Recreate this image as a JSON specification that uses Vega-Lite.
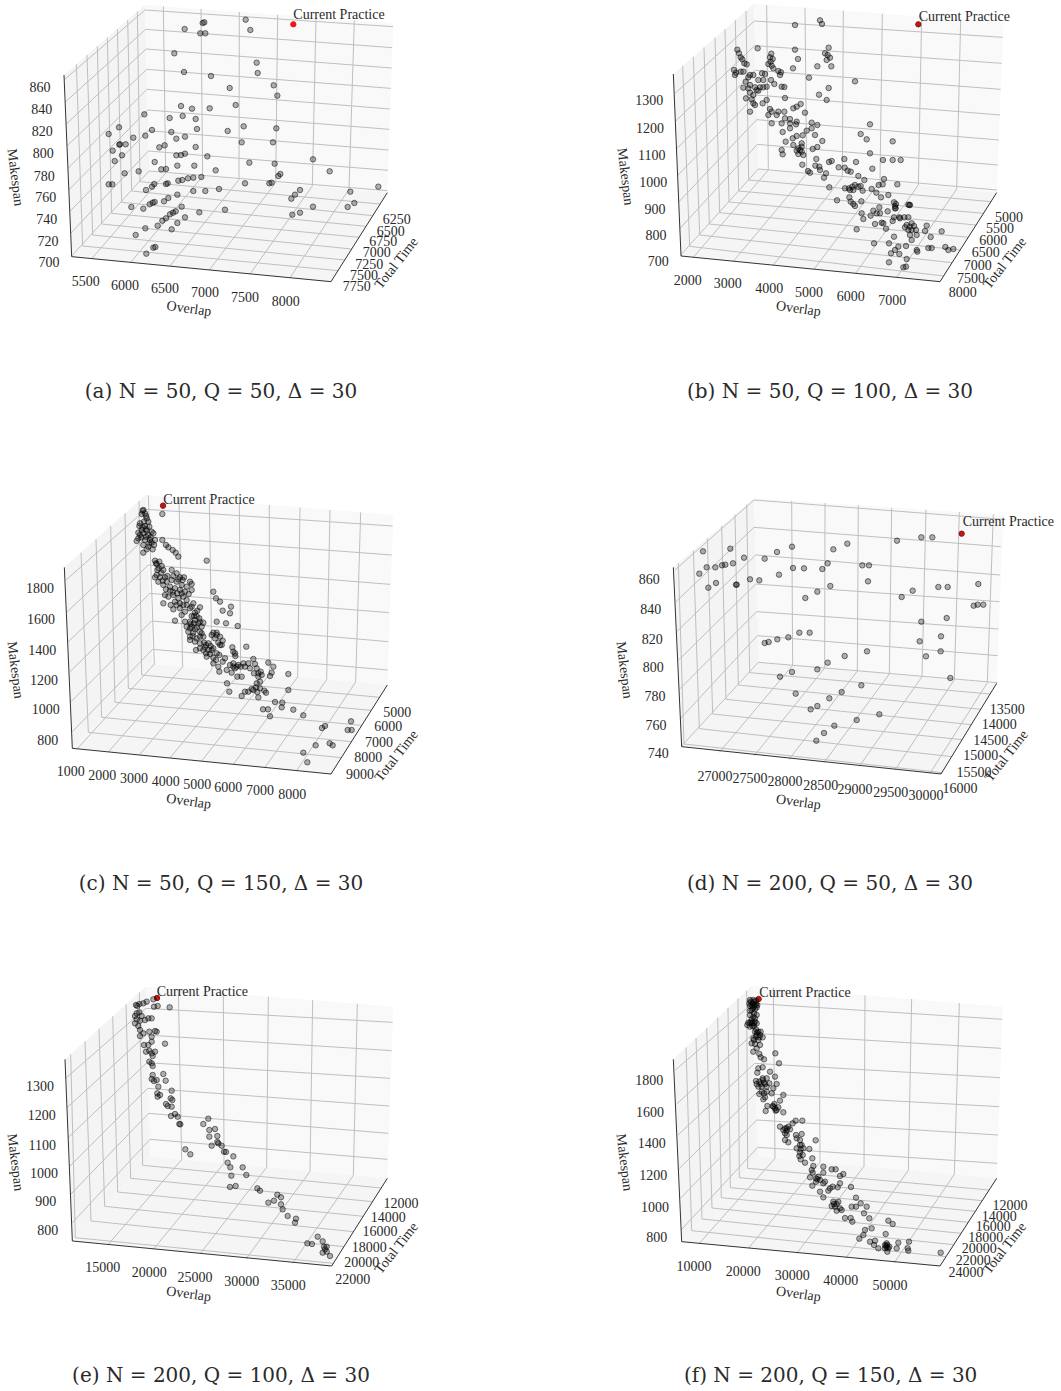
{"$schema":"https://vega.github.io/schema/vega-lite/v6.json","padding":0,"background":"white","spacing":0,
"config":{"view":{"stroke":null},"text":{"font":"Liberation Serif","fontSize":14,"color":"#2a2a2a"},"concat":{"spacing":0}},
"datasets":{
"wa":[{"h":215,"v":770,"i":1,"f":"l"},{"h":192,"v":225,"i":2,"f":"l"},{"h":435,"v":15,"i":3,"f":"l"},{"h":448,"v":515,"i":4,"f":"l"},{"h":448,"v":515,"i":1,"f":"b"},{"h":435,"v":15,"i":2,"f":"b"},{"h":1180,"v":70,"i":3,"f":"b"},{"h":1162,"v":578,"i":4,"f":"b"},{"h":215,"v":770,"i":1,"f":"g"},{"h":993,"v":845,"i":2,"f":"g"},{"h":1162,"v":578,"i":3,"f":"g"},{"h":448,"v":515,"i":4,"f":"g"}],
"xa":[{"h":215,"v":770,"h2":192,"v2":225},{"h":215,"v":770,"h2":993,"v2":845},{"h":993,"v":845,"h2":1162,"v2":578}],
"sa":[{"h":275,"v":776,"h2":497,"v2":519,"ax":"o"},{"h":497,"v":519,"h2":490,"v2":19},{"h":392,"v":787,"h2":608,"v2":529,"ax":"o"},{"h":608,"v":529,"h2":603,"v2":27},{"h":510,"v":798,"h2":717,"v2":539,"ax":"o"},{"h":717,"v":539,"h2":718,"v2":36},{"h":628,"v":810,"h2":827,"v2":548,"ax":"o"},{"h":827,"v":548,"h2":833,"v2":44},{"h":750,"v":822,"h2":937,"v2":558,"ax":"o"},{"h":937,"v":558,"h2":948,"v2":53},{"h":870,"v":833,"h2":1047,"v2":568,"ax":"o"},{"h":1047,"v":568,"h2":1063,"v2":61},
{"h":1140,"v":612,"h2":420,"v2":545,"ax":"t"},{"h":420,"v":545,"h2":412,"v2":35},{"h":1118,"v":647,"h2":395,"v2":573,"ax":"t"},{"h":395,"v":573,"h2":383,"v2":60},{"h":1098,"v":679,"h2":365,"v2":607,"ax":"t"},{"h":365,"v":607,"h2":352,"v2":87},{"h":1077,"v":712,"h2":335,"v2":640,"ax":"t"},{"h":335,"v":640,"h2":322,"v2":113},{"h":1055,"v":747,"h2":305,"v2":672,"ax":"t"},{"h":305,"v":672,"h2":292,"v2":139},{"h":1034,"v":780,"h2":278,"v2":705,"ax":"t"},{"h":278,"v":705,"h2":261,"v2":165},{"h":1014,"v":812,"h2":248,"v2":738,"ax":"t"},{"h":248,"v":738,"h2":229,"v2":193},
{"h":215,"v":768,"h2":447,"v2":513,"ax":"m"},{"h":447,"v":513,"h2":1162,"v2":572},{"h":212,"v":700,"h2":445,"v2":453,"ax":"m"},{"h":445,"v":453,"h2":1164,"v2":511},{"h":209,"v":635,"h2":444,"v2":392,"ax":"m"},{"h":444,"v":392,"h2":1166,"v2":450},{"h":206,"v":570,"h2":443,"v2":330,"ax":"m"},{"h":443,"v":330,"h2":1168,"v2":388},{"h":204,"v":505,"h2":441,"v2":268,"ax":"m"},{"h":441,"v":268,"h2":1170,"v2":327},{"h":202,"v":437,"h2":440,"v2":208,"ax":"m"},{"h":440,"v":208,"h2":1172,"v2":265},{"h":199,"v":372,"h2":438,"v2":147,"ax":"m"},{"h":438,"v":147,"h2":1175,"v2":204},{"h":197,"v":305,"h2":437,"v2":88,"ax":"m"},{"h":437,"v":88,"h2":1177,"v2":143},{"h":194,"v":238,"h2":435,"v2":30,"ax":"m"},{"h":435,"v":30,"h2":1179,"v2":80}],
"la":[{"h":257,"v":845,"t":"5500"},{"h":375,"v":857,"t":"6000"},{"h":495,"v":867,"t":"6500"},{"h":615,"v":880,"t":"7000"},{"h":735,"v":893,"t":"7500"},{"h":857,"v":905,"t":"8000"},{"h":1190,"v":660,"t":"6250"},{"h":1172,"v":695,"t":"6500"},{"h":1150,"v":727,"t":"6750"},{"h":1130,"v":760,"t":"7000"},{"h":1108,"v":795,"t":"7250"},{"h":1092,"v":828,"t":"7500"},{"h":1070,"v":860,"t":"7750"},{"h":120,"v":264,"t":"860"},{"h":125,"v":330,"t":"840"},{"h":127,"v":397,"t":"820"},{"h":130,"v":463,"t":"800"},{"h":133,"v":530,"t":"780"},{"h":137,"v":595,"t":"760"},{"h":140,"v":660,"t":"740"},{"h":144,"v":725,"t":"720"},{"h":147,"v":788,"t":"700"},{"h":1017,"v":45,"t":"Current Practice"}],
"pa":[{"h":737,"v":59},{"h":751,"v":90},{"h":608,"v":69},{"h":613,"v":67},{"h":554,"v":87},{"h":601,"v":100},{"h":616,"v":100},{"h":523,"v":160},{"h":770,"v":188},{"h":773,"v":219},{"h":552,"v":216},{"h":633,"v":228},{"h":689,"v":264},{"h":821,"v":256},{"h":832,"v":287},{"h":707,"v":315},{"h":543,"v":318},{"h":576,"v":326},{"h":629,"v":325},{"h":433,"v":343},{"h":509,"v":354},{"h":548,"v":348},{"h":587,"v":357},{"h":357,"v":382},{"h":326,"v":402},{"h":456,"v":390},{"h":436,"v":407},{"h":400,"v":413},{"h":514,"v":396},{"h":529,"v":416},{"h":555,"v":410},{"h":591,"v":387},{"h":683,"v":393},{"h":731,"v":379},{"h":829,"v":385},{"h":725,"v":427},{"h":819,"v":427},{"h":358,"v":434},{"h":360,"v":433},{"h":377,"v":433},{"h":338,"v":452},{"h":366,"v":466},{"h":344,"v":483},{"h":478,"v":442},{"h":494,"v":436},{"h":587,"v":441},{"h":529,"v":466},{"h":543,"v":465},{"h":555,"v":461},{"h":622,"v":469},{"h":464,"v":486},{"h":748,"v":488},{"h":824,"v":491},{"h":939,"v":478},{"h":989,"v":514},{"h":374,"v":520},{"h":416,"v":514},{"h":484,"v":508},{"h":498,"v":507},{"h":532,"v":497},{"h":583,"v":497},{"h":647,"v":511},{"h":841,"v":522},{"h":835,"v":528},{"h":1135,"v":560},{"h":326,"v":553},{"h":337,"v":553},{"h":604,"v":531},{"h":580,"v":533},{"h":564,"v":535},{"h":547,"v":540},{"h":535,"v":542},{"h":503,"v":550},{"h":498,"v":552},{"h":463,"v":552},{"h":456,"v":560},{"h":735,"v":550},{"h":815,"v":548},{"h":808,"v":550},{"h":438,"v":570},{"h":580,"v":573},{"h":616,"v":573},{"h":657,"v":567},{"h":900,"v":570},{"h":885,"v":584},{"h":874,"v":596},{"h":1051,"v":575},{"h":1063,"v":609},{"h":1043,"v":621},{"h":532,"v":584},{"h":505,"v":594},{"h":492,"v":604},{"h":464,"v":606},{"h":458,"v":608},{"h":449,"v":613},{"h":430,"v":626},{"h":394,"v":621},{"h":545,"v":620},{"h":527,"v":634},{"h":519,"v":638},{"h":510,"v":643},{"h":498,"v":655},{"h":487,"v":662},{"h":473,"v":677},{"h":555,"v":652},{"h":532,"v":669},{"h":515,"v":688},{"h":436,"v":685},{"h":407,"v":705},{"h":598,"v":637},{"h":675,"v":629},{"h":939,"v":620},{"h":900,"v":638},{"h":877,"v":644},{"h":466,"v":741},{"h":460,"v":743},{"h":439,"v":761}],

"wb":[{"h":213,"v":768,"i":1,"f":"l"},{"h":190,"v":222,"i":2,"f":"l"},{"h":432,"v":12,"i":3,"f":"l"},{"h":445,"v":507,"i":4,"f":"l"},{"h":445,"v":507,"i":1,"f":"b"},{"h":432,"v":12,"i":2,"f":"b"},{"h":1180,"v":68,"i":3,"f":"b"},{"h":1160,"v":578,"i":4,"f":"b"},{"h":213,"v":768,"i":1,"f":"g"},{"h":990,"v":845,"i":2,"f":"g"},{"h":1160,"v":578,"i":3,"f":"g"},{"h":445,"v":507,"i":4,"f":"g"}],
"xb":[{"h":213,"v":768,"h2":190,"v2":222},{"h":213,"v":768,"h2":990,"v2":845},{"h":990,"v":845,"h2":1160,"v2":578}],
"sb":[{"h":250,"v":772,"h2":475,"v2":510,"ax":"o"},{"h":475,"v":510,"h2":470,"v2":15},{"h":370,"v":784,"h2":590,"v2":521,"ax":"o"},{"h":590,"v":521,"h2":585,"v2":23},{"h":490,"v":795,"h2":697,"v2":532,"ax":"o"},{"h":697,"v":532,"h2":700,"v2":32},{"h":612,"v":808,"h2":810,"v2":544,"ax":"o"},{"h":810,"v":544,"h2":817,"v2":41},{"h":737,"v":820,"h2":925,"v2":555,"ax":"o"},{"h":925,"v":555,"h2":935,"v2":50},{"h":860,"v":832,"h2":1040,"v2":567,"ax":"o"},{"h":1040,"v":567,"h2":1052,"v2":58},
{"h":1143,"v":605,"h2":416,"v2":540,"ax":"t"},{"h":416,"v":540,"h2":408,"v2":33},{"h":1120,"v":640,"h2":386,"v2":573,"ax":"t"},{"h":386,"v":573,"h2":376,"v2":60},{"h":1098,"v":675,"h2":357,"v2":606,"ax":"t"},{"h":357,"v":606,"h2":345,"v2":87},{"h":1075,"v":712,"h2":329,"v2":638,"ax":"t"},{"h":329,"v":638,"h2":315,"v2":113},{"h":1050,"v":750,"h2":298,"v2":672,"ax":"t"},{"h":298,"v":672,"h2":282,"v2":142},{"h":1026,"v":788,"h2":269,"v2":705,"ax":"t"},{"h":269,"v":705,"h2":250,"v2":170},{"h":1001,"v":828,"h2":239,"v2":739,"ax":"t"},{"h":239,"v":739,"h2":218,"v2":198},
{"h":213,"v":764,"h2":445,"v2":507,"ax":"m"},{"h":445,"v":507,"h2":1161,"v2":570},{"h":210,"v":685,"h2":442,"v2":433,"ax":"m"},{"h":442,"v":433,"h2":1164,"v2":495},{"h":207,"v":605,"h2":440,"v2":359,"ax":"m"},{"h":440,"v":359,"h2":1167,"v2":420},{"h":204,"v":525,"h2":438,"v2":285,"ax":"m"},{"h":438,"v":285,"h2":1170,"v2":345},{"h":201,"v":445,"h2":436,"v2":211,"ax":"m"},{"h":436,"v":211,"h2":1172,"v2":268},{"h":198,"v":362,"h2":434,"v2":137,"ax":"m"},{"h":434,"v":137,"h2":1175,"v2":190},{"h":195,"v":280,"h2":433,"v2":63,"ax":"m"},{"h":433,"v":63,"h2":1178,"v2":112}],
"lb":[{"h":233,"v":843,"t":"2000"},{"h":353,"v":853,"t":"3000"},{"h":478,"v":868,"t":"4000"},{"h":597,"v":880,"t":"5000"},{"h":722,"v":890,"t":"6000"},{"h":847,"v":903,"t":"7000"},{"h":1197,"v":653,"t":"5000"},{"h":1170,"v":688,"t":"5500"},{"h":1150,"v":723,"t":"6000"},{"h":1127,"v":760,"t":"6500"},{"h":1103,"v":798,"t":"7000"},{"h":1083,"v":836,"t":"7500"},{"h":1058,"v":878,"t":"8000"},{"h":118,"v":303,"t":"1300"},{"h":120,"v":386,"t":"1200"},{"h":125,"v":467,"t":"1100"},{"h":130,"v":548,"t":"1000"},{"h":135,"v":630,"t":"900"},{"h":138,"v":708,"t":"800"},{"h":145,"v":785,"t":"700"},{"h":1063,"v":52,"t":"Current Practice"}],
"pb":[{"h":630,"v":61},{"h":636,"v":72},{"h":555,"v":75},{"h":656,"v":143},{"h":443,"v":145},{"h":555,"v":149},{"h":382,"v":149},{"h":387,"v":160},{"h":392,"v":172},{"h":397,"v":178},{"h":484,"v":161},{"h":480,"v":172},{"h":488,"v":177},{"h":645,"v":160},{"h":653,"v":165},{"h":660,"v":173},{"h":650,"v":180},{"h":564,"v":177},{"h":403,"v":190},{"h":410,"v":193},{"h":475,"v":192},{"h":485,"v":197},{"h":664,"v":199},{"h":622,"v":199},{"h":549,"v":205},{"h":372,"v":210},{"h":378,"v":218},{"h":392,"v":215},{"h":375,"v":225},{"h":505,"v":213},{"h":513,"v":217},{"h":510,"v":225},{"h":456,"v":220},{"h":465,"v":222},{"h":430,"v":225},{"h":415,"v":232},{"h":460,"v":240},{"h":483,"v":240},{"h":493,"v":252},{"h":597,"v":233},{"h":735,"v":244},{"h":407,"v":245},{"h":420,"v":255},{"h":400,"v":263},{"h":415,"v":265},{"h":440,"v":270},{"h":460,"v":262},{"h":470,"v":260},{"h":515,"v":260},{"h":523,"v":261},{"h":656,"v":264},{"h":420,"v":278},{"h":445,"v":272},{"h":430,"v":285},{"h":408,"v":295},{"h":425,"v":298},{"h":627,"v":284},{"h":650,"v":300},{"h":525,"v":294},{"h":470,"v":300},{"h":458,"v":310},{"h":430,"v":310},{"h":435,"v":315},{"h":420,"v":335},{"h":480,"v":327},{"h":485,"v":335},{"h":505,"v":335},{"h":523,"v":335},{"h":550,"v":325},{"h":560,"v":320},{"h":572,"v":312},{"h":585,"v":338},{"h":475,"v":345},{"h":500,"v":345},{"h":540,"v":357},{"h":525,"v":355},{"h":560,"v":365},{"h":515,"v":370},{"h":485,"v":370},{"h":558,"v":373},{"h":605,"v":368},{"h":622,"v":375},{"h":780,"v":373},{"h":540,"v":385},{"h":518,"v":396},{"h":590,"v":392},{"h":605,"v":385},{"h":615,"v":405},{"h":752,"v":402},{"h":770,"v":418},{"h":848,"v":424},{"h":578,"v":406},{"h":560,"v":408},{"h":548,"v":415},{"h":527,"v":425},{"h":550,"v":435},{"h":637,"v":423},{"h":622,"v":441},{"h":608,"v":447},{"h":575,"v":430},{"h":570,"v":450},{"h":560,"v":452},{"h":575,"v":455},{"h":565,"v":462},{"h":515,"v":450},{"h":518,"v":463},{"h":780,"v":460},{"h":619,"v":477},{"h":628,"v":500},{"h":616,"v":497},{"h":577,"v":494},{"h":657,"v":486},{"h":665,"v":483},{"h":703,"v":477},{"h":738,"v":486},{"h":819,"v":480},{"h":848,"v":480},{"h":872,"v":480},{"h":686,"v":502},{"h":704,"v":503},{"h":713,"v":512},{"h":722,"v":515},{"h":787,"v":506},{"h":594,"v":513},{"h":600,"v":518},{"h":630,"v":510},{"h":648,"v":520},{"h":642,"v":533},{"h":745,"v":528},{"h":763,"v":540},{"h":822,"v":537},{"h":818,"v":553},{"h":806,"v":555},{"h":862,"v":553},{"h":735,"v":555},{"h":752,"v":558},{"h":727,"v":560},{"h":705,"v":565},{"h":717,"v":565},{"h":658,"v":562},{"h":785,"v":567},{"h":758,"v":572},{"h":799,"v":578},{"h":835,"v":585},{"h":813,"v":592},{"h":681,"v":601},{"h":718,"v":592},{"h":722,"v":605},{"h":730,"v":612},{"h":735,"v":618},{"h":754,"v":604},{"h":808,"v":622},{"h":852,"v":607},{"h":855,"v":618},{"h":857,"v":625},{"h":895,"v":614},{"h":898,"v":615},{"h":790,"v":632},{"h":782,"v":647},{"h":755,"v":640},{"h":760,"v":657},{"h":833,"v":634},{"h":852,"v":652},{"h":848,"v":663},{"h":868,"v":652},{"h":883,"v":652},{"h":895,"v":652},{"h":905,"v":670},{"h":795,"v":672},{"h":815,"v":668},{"h":820,"v":670},{"h":828,"v":686},{"h":740,"v":688},{"h":885,"v":682},{"h":895,"v":690},{"h":912,"v":678},{"h":918,"v":690},{"h":950,"v":677},{"h":945,"v":693},{"h":995,"v":694},{"h":962,"v":711},{"h":900,"v":705},{"h":905,"v":720},{"h":920,"v":705},{"h":792,"v":730},{"h":837,"v":730},{"h":852,"v":710},{"h":888,"v":738},{"h":865,"v":740},{"h":855,"v":750},{"h":843,"v":760},{"h":920,"v":750},{"h":922,"v":755},{"h":955,"v":744},{"h":965,"v":744},{"h":1006,"v":741},{"h":1015,"v":750},{"h":1030,"v":747},{"h":868,"v":762},{"h":890,"v":777},{"h":837,"v":787},{"h":880,"v":802},{"h":888,"v":800},{"h":400,"v":215},{"h":420,"v":225},{"h":445,"v":240},{"h":435,"v":262},{"h":450,"v":262},{"h":482,"v":185},{"h":490,"v":205},{"h":540,"v":370},{"h":575,"v":440},{"h":565,"v":445},{"h":580,"v":465},{"h":855,"v":625},{"h":858,"v":612},{"h":900,"v":615},{"h":870,"v":655},{"h":890,"v":675},{"h":900,"v":680},{"h":905,"v":690},{"h":730,"v":570},{"h":720,"v":570},{"h":745,"v":560},{"h":800,"v":640},{"h":810,"v":640}],

"wc":[{"h":217,"v":775,"i":1,"f":"l"},{"h":193,"v":232,"i":2,"f":"l"},{"h":437,"v":15,"i":3,"f":"l"},{"h":458,"v":522,"i":4,"f":"l"},{"h":458,"v":522,"i":1,"f":"b"},{"h":437,"v":15,"i":2,"f":"b"},{"h":1180,"v":75,"i":3,"f":"b"},{"h":1162,"v":585,"i":4,"f":"b"},{"h":217,"v":775,"i":1,"f":"g"},{"h":993,"v":852,"i":2,"f":"g"},{"h":1162,"v":585,"i":3,"f":"g"},{"h":458,"v":522,"i":4,"f":"g"}],
"xc":[{"h":217,"v":775,"h2":193,"v2":232},{"h":217,"v":775,"h2":993,"v2":852},{"h":993,"v":852,"h2":1162,"v2":585}],
"sc":[{"h":232,"v":776,"h2":463,"v2":522,"ax":"o"},{"h":463,"v":522,"h2":445,"v2":16},{"h":325,"v":786,"h2":548,"v2":530,"ax":"o"},{"h":548,"v":530,"h2":537,"v2":23},{"h":418,"v":795,"h2":636,"v2":538,"ax":"o"},{"h":636,"v":538,"h2":628,"v2":30},{"h":510,"v":804,"h2":722,"v2":546,"ax":"o"},{"h":722,"v":546,"h2":718,"v2":38},{"h":605,"v":813,"h2":808,"v2":553,"ax":"o"},{"h":808,"v":553,"h2":808,"v2":45},{"h":700,"v":823,"h2":893,"v2":561,"ax":"o"},{"h":893,"v":561,"h2":900,"v2":52},{"h":795,"v":832,"h2":980,"v2":569,"ax":"o"},{"h":980,"v":569,"h2":990,"v2":60},{"h":890,"v":842,"h2":1067,"v2":576,"ax":"o"},{"h":1067,"v":576,"h2":1082,"v2":67},
{"h":1139,"v":622,"h2":425,"v2":555,"ax":"t"},{"h":425,"v":555,"h2":417,"v2":33},{"h":1114,"v":661,"h2":385,"v2":595,"ax":"t"},{"h":385,"v":595,"h2":375,"v2":70},{"h":1085,"v":706,"h2":345,"v2":637,"ax":"t"},{"h":345,"v":637,"h2":332,"v2":108},{"h":1054,"v":755,"h2":305,"v2":682,"ax":"t"},{"h":305,"v":682,"h2":288,"v2":148},{"h":1024,"v":803,"h2":265,"v2":727,"ax":"t"},{"h":265,"v":727,"h2":243,"v2":188},
{"h":217,"v":725,"h2":458,"v2":478,"ax":"m"},{"h":458,"v":478,"h2":1163,"v2":540},{"h":213,"v":635,"h2":455,"v2":393,"ax":"m"},{"h":455,"v":393,"h2":1165,"v2":455},{"h":210,"v":545,"h2":450,"v2":310,"ax":"m"},{"h":450,"v":310,"h2":1167,"v2":368},{"h":205,"v":455,"h2":445,"v2":225,"ax":"m"},{"h":445,"v":225,"h2":1170,"v2":283},{"h":202,"v":365,"h2":440,"v2":140,"ax":"m"},{"h":440,"v":140,"h2":1175,"v2":195},{"h":198,"v":270,"h2":438,"v2":58,"ax":"m"},{"h":438,"v":58,"h2":1178,"v2":108}],
"lc":[{"h":212,"v":847,"t":"1000"},{"h":307,"v":858,"t":"2000"},{"h":402,"v":866,"t":"3000"},{"h":497,"v":877,"t":"4000"},{"h":592,"v":885,"t":"5000"},{"h":685,"v":893,"t":"6000"},{"h":780,"v":903,"t":"7000"},{"h":877,"v":915,"t":"8000"},{"h":1192,"v":670,"t":"5000"},{"h":1165,"v":712,"t":"6000"},{"h":1137,"v":760,"t":"7000"},{"h":1105,"v":803,"t":"8000"},{"h":1080,"v":855,"t":"9000"},{"h":143,"v":752,"t":"800"},{"h":137,"v":660,"t":"1000"},{"h":132,"v":572,"t":"1200"},{"h":127,"v":482,"t":"1400"},{"h":123,"v":390,"t":"1600"},{"h":120,"v":298,"t":"1800"},{"h":627,"v":30,"t":"Current Practice"}],
"pc":[{"h":487,"v":72},{"h":430,"v":60},{"h":435,"v":70},{"h":425,"v":72},{"h":440,"v":85},{"h":432,"v":95},{"h":445,"v":95},{"h":418,"v":108},{"h":435,"v":108},{"h":425,"v":120},{"h":415,"v":128},{"h":440,"v":122},{"h":455,"v":125},{"h":430,"v":130},{"h":445,"v":135},{"h":460,"v":130},{"h":420,"v":135},{"h":410,"v":153},{"h":435,"v":150},{"h":450,"v":150},{"h":465,"v":150},{"h":430,"v":165},{"h":445,"v":170},{"h":462,"v":165},{"h":458,"v":178},{"h":430,"v":188},{"h":487,"v":150},{"h":498,"v":165},{"h":518,"v":180},{"h":527,"v":188},{"h":535,"v":200},{"h":505,"v":172},{"h":620,"v":212},{"h":465,"v":212},{"h":470,"v":222},{"h":478,"v":215},{"h":485,"v":228},{"h":472,"v":240},{"h":490,"v":240},{"h":470,"v":255},{"h":480,"v":262},{"h":495,"v":262},{"h":515,"v":240},{"h":530,"v":250},{"h":540,"v":262},{"h":548,"v":270},{"h":570,"v":275},{"h":575,"v":282},{"h":500,"v":275},{"h":515,"v":270},{"h":530,"v":275},{"h":545,"v":285},{"h":560,"v":290},{"h":490,"v":285},{"h":510,"v":290},{"h":525,"v":295},{"h":540,"v":300},{"h":575,"v":300},{"h":640,"v":305},{"h":648,"v":325},{"h":660,"v":335},{"h":495,"v":315},{"h":505,"v":320},{"h":520,"v":315},{"h":535,"v":325},{"h":550,"v":320},{"h":560,"v":330},{"h":540,"v":340},{"h":525,"v":335},{"h":550,"v":345},{"h":490,"v":340},{"h":580,"v":340},{"h":693,"v":350},{"h":600,"v":352},{"h":570,"v":355},{"h":585,"v":368},{"h":520,"v":358},{"h":545,"v":375},{"h":555,"v":365},{"h":668,"v":362},{"h":690,"v":370},{"h":575,"v":378},{"h":590,"v":378},{"h":525,"v":392},{"h":555,"v":395},{"h":570,"v":395},{"h":585,"v":390},{"h":600,"v":395},{"h":650,"v":395},{"h":678,"v":400},{"h":713,"v":408},{"h":560,"v":410},{"h":575,"v":410},{"h":590,"v":412},{"h":605,"v":410},{"h":565,"v":425},{"h":580,"v":428},{"h":600,"v":425},{"h":570,"v":440},{"h":590,"v":445},{"h":610,"v":440},{"h":570,"v":450},{"h":640,"v":428},{"h":650,"v":435},{"h":660,"v":440},{"h":645,"v":445},{"h":668,"v":452},{"h":655,"v":458},{"h":600,"v":460},{"h":612,"v":458},{"h":625,"v":460},{"h":588,"v":480},{"h":610,"v":480},{"h":625,"v":480},{"h":618,"v":490},{"h":635,"v":480},{"h":640,"v":503},{"h":630,"v":492},{"h":665,"v":465},{"h":739,"v":470},{"h":697,"v":472},{"h":705,"v":490},{"h":658,"v":495},{"h":675,"v":505},{"h":640,"v":520},{"h":655,"v":530},{"h":658,"v":545},{"h":700,"v":520},{"h":715,"v":525},{"h":730,"v":520},{"h":745,"v":520},{"h":760,"v":507},{"h":750,"v":535},{"h":765,"v":522},{"h":805,"v":518},{"h":820,"v":530},{"h":815,"v":548},{"h":810,"v":558},{"h":680,"v":540},{"h":695,"v":548},{"h":710,"v":530},{"h":725,"v":560},{"h":712,"v":560},{"h":762,"v":550},{"h":775,"v":550},{"h":785,"v":555},{"h":865,"v":552},{"h":770,"v":580},{"h":780,"v":575},{"h":755,"v":597},{"h":745,"v":605},{"h":725,"v":618},{"h":735,"v":605},{"h":780,"v":595},{"h":775,"v":622},{"h":793,"v":602},{"h":798,"v":608},{"h":681,"v":580},{"h":688,"v":605},{"h":865,"v":600},{"h":825,"v":636},{"h":847,"v":638},{"h":845,"v":652},{"h":880,"v":659},{"h":789,"v":658},{"h":804,"v":658},{"h":810,"v":679},{"h":910,"v":676},{"h":1053,"v":694},{"h":975,"v":708},{"h":966,"v":714},{"h":1043,"v":720},{"h":1055,"v":720},{"h":947,"v":766},{"h":989,"v":760},{"h":998,"v":766},{"h":910,"v":788},{"h":922,"v":817},{"h":428,"v":62},{"h":438,"v":78},{"h":420,"v":100},{"h":428,"v":112},{"h":438,"v":118},{"h":448,"v":110},{"h":424,"v":142},{"h":438,"v":140},{"h":452,"v":142},{"h":415,"v":145},{"h":448,"v":160},{"h":455,"v":158},{"h":440,"v":178},{"h":468,"v":220},{"h":476,"v":235},{"h":484,"v":248},{"h":465,"v":262},{"h":475,"v":275},{"h":488,"v":272},{"h":502,"v":258},{"h":520,"v":258},{"h":535,"v":268},{"h":552,"v":262},{"h":510,"v":302},{"h":498,"v":298},{"h":518,"v":305},{"h":532,"v":310},{"h":545,"v":310},{"h":555,"v":305},{"h":566,"v":312},{"h":530,"v":345},{"h":540,"v":355},{"h":512,"v":345},{"h":560,"v":345},{"h":575,"v":350},{"h":582,"v":378},{"h":592,"v":362},{"h":598,"v":385},{"h":572,"v":402},{"h":582,"v":400},{"h":595,"v":400},{"h":610,"v":398},{"h":570,"v":415},{"h":585,"v":418},{"h":605,"v":430},{"h":578,"v":438},{"h":600,"v":440},{"h":585,"v":455},{"h":618,"v":465},{"h":600,"v":475},{"h":632,"v":468},{"h":615,"v":472},{"h":640,"v":475},{"h":650,"v":490},{"h":620,"v":500},{"h":648,"v":510},{"h":668,"v":515},{"h":690,"v":525},{"h":705,"v":535},{"h":722,"v":530},{"h":735,"v":530},{"h":700,"v":530},{"h":770,"v":535},{"h":775,"v":560},{"h":782,"v":545},{"h":650,"v":428},{"h":635,"v":435},{"h":660,"v":465},{"h":700,"v":485},{"h":706,"v":498},{"h":760,"v":600},{"h":768,"v":592},{"h":772,"v":606}],

"wd":[{"h":215,"v":770,"i":1,"f":"l"},{"h":190,"v":232,"i":2,"f":"l"},{"h":432,"v":25,"i":3,"f":"l"},{"h":447,"v":517,"i":4,"f":"l"},{"h":447,"v":517,"i":1,"f":"b"},{"h":432,"v":25,"i":2,"f":"b"},{"h":1180,"v":75,"i":3,"f":"b"},{"h":1160,"v":580,"i":4,"f":"b"},{"h":215,"v":770,"i":1,"f":"g"},{"h":993,"v":852,"i":2,"f":"g"},{"h":1160,"v":580,"i":3,"f":"g"},{"h":447,"v":517,"i":4,"f":"g"}],
"xd":[{"h":215,"v":770,"h2":190,"v2":232},{"h":215,"v":770,"h2":993,"v2":852},{"h":993,"v":852,"h2":1160,"v2":580}],
"sd":[{"h":328,"v":787,"h2":548,"v2":526,"ax":"o"},{"h":548,"v":526,"h2":545,"v2":33},{"h":433,"v":797,"h2":644,"v2":534,"ax":"o"},{"h":644,"v":534,"h2":645,"v2":39},{"h":537,"v":808,"h2":742,"v2":543,"ax":"o"},{"h":742,"v":543,"h2":745,"v2":46},{"h":642,"v":818,"h2":838,"v2":552,"ax":"o"},{"h":838,"v":552,"h2":845,"v2":53},{"h":748,"v":829,"h2":936,"v2":560,"ax":"o"},{"h":936,"v":560,"h2":948,"v2":59},{"h":855,"v":840,"h2":1033,"v2":569,"ax":"o"},{"h":1033,"v":569,"h2":1048,"v2":66},{"h":960,"v":850,"h2":1132,"v2":578,"ax":"o"},{"h":1132,"v":578,"h2":1150,"v2":73},
{"h":1140,"v":612,"h2":419,"v2":548,"ax":"t"},{"h":419,"v":548,"h2":410,"v2":44},{"h":1112,"v":658,"h2":385,"v2":585,"ax":"t"},{"h":385,"v":585,"h2":375,"v2":74},{"h":1084,"v":704,"h2":348,"v2":628,"ax":"t"},{"h":348,"v":628,"h2":335,"v2":108},{"h":1056,"v":749,"h2":308,"v2":672,"ax":"t"},{"h":308,"v":672,"h2":292,"v2":145},{"h":1026,"v":800,"h2":268,"v2":716,"ax":"t"},{"h":268,"v":716,"h2":250,"v2":181},{"h":996,"v":848,"h2":222,"v2":762,"ax":"t"},{"h":222,"v":762,"h2":205,"v2":219},
{"h":215,"v":768,"h2":445,"v2":517,"ax":"m"},{"h":445,"v":517,"h2":1162,"v2":578},{"h":212,"v":685,"h2":442,"v2":437,"ax":"m"},{"h":442,"v":437,"h2":1163,"v2":497},{"h":209,"v":597,"h2":440,"v2":365,"ax":"m"},{"h":440,"v":365,"h2":1165,"v2":417},{"h":206,"v":510,"h2":437,"v2":282,"ax":"m"},{"h":437,"v":282,"h2":1168,"v2":335},{"h":202,"v":423,"h2":437,"v2":195,"ax":"m"},{"h":437,"v":195,"h2":1170,"v2":255},{"h":198,"v":335,"h2":432,"v2":112,"ax":"m"},{"h":432,"v":112,"h2":1172,"v2":170},{"h":195,"v":240,"h2":432,"v2":30,"ax":"m"},{"h":432,"v":30,"h2":1177,"v2":88}],
"ld":[{"h":315,"v":860,"t":"27000"},{"h":420,"v":868,"t":"27500"},{"h":525,"v":877,"t":"28000"},{"h":632,"v":888,"t":"28500"},{"h":735,"v":900,"t":"29000"},{"h":842,"v":910,"t":"29500"},{"h":948,"v":918,"t":"30000"},{"h":1192,"v":660,"t":"13500"},{"h":1168,"v":706,"t":"14000"},{"h":1142,"v":752,"t":"14500"},{"h":1112,"v":797,"t":"15000"},{"h":1092,"v":848,"t":"15500"},{"h":1050,"v":897,"t":"16000"},{"h":118,"v":270,"t":"860"},{"h":122,"v":360,"t":"840"},{"h":127,"v":450,"t":"820"},{"h":130,"v":535,"t":"800"},{"h":135,"v":622,"t":"780"},{"h":138,"v":708,"t":"760"},{"h":145,"v":793,"t":"740"},{"h":1195,"v":97,"t":"Current Practice"}],
"pd":[{"h":279,"v":184},{"h":361,"v":176},{"h":546,"v":170},{"h":501,"v":186},{"h":712,"v":161},{"h":670,"v":178},{"h":861,"v":152},{"h":934,"v":142},{"h":967,"v":142},{"h":290,"v":232},{"h":316,"v":232},{"h":336,"v":226},{"h":346,"v":224},{"h":369,"v":220},{"h":402,"v":203},{"h":464,"v":206},{"h":268,"v":251},{"h":318,"v":279},{"h":295,"v":293},{"h":378,"v":284},{"h":380,"v":284},{"h":420,"v":268},{"h":448,"v":271},{"h":507,"v":254},{"h":549,"v":234},{"h":582,"v":235},{"h":637,"v":237},{"h":653,"v":220},{"h":757,"v":226},{"h":777,"v":226},{"h":774,"v":274},{"h":661,"v":288},{"h":622,"v":305},{"h":586,"v":324},{"h":875,"v":321},{"h":908,"v":302},{"h":985,"v":291},{"h":1013,"v":291},{"h":1105,"v":282},{"h":1091,"v":347},{"h":1103,"v":344},{"h":1120,"v":344},{"h":1010,"v":384},{"h":934,"v":395},{"h":993,"v":439},{"h":929,"v":454},{"h":992,"v":484},{"h":948,"v":499},{"h":1021,"v":564},{"h":464,"v":459},{"h":476,"v":456},{"h":502,"v":448},{"h":535,"v":442},{"h":568,"v":428},{"h":599,"v":428},{"h":771,"v":484},{"h":704,"v":498},{"h":653,"v":518},{"h":622,"v":538},{"h":546,"v":546},{"h":510,"v":560},{"h":754,"v":586},{"h":695,"v":606},{"h":658,"v":625},{"h":622,"v":648},{"h":602,"v":658},{"h":557,"v":611},{"h":808,"v":673},{"h":740,"v":690},{"h":673,"v":707},{"h":642,"v":729},{"h":619,"v":752}],

"we":[{"h":217,"v":783,"i":1,"f":"l"},{"h":195,"v":238,"i":2,"f":"l"},{"h":437,"v":20,"i":3,"f":"l"},{"h":452,"v":530,"i":4,"f":"l"},{"h":452,"v":530,"i":1,"f":"b"},{"h":437,"v":20,"i":2,"f":"b"},{"h":1180,"v":80,"i":3,"f":"b"},{"h":1162,"v":595,"i":4,"f":"b"},{"h":217,"v":783,"i":1,"f":"g"},{"h":995,"v":858,"i":2,"f":"g"},{"h":1162,"v":595,"i":3,"f":"g"},{"h":452,"v":530,"i":4,"f":"g"}],
"xe":[{"h":217,"v":783,"h2":195,"v2":238},{"h":217,"v":783,"h2":995,"v2":858},{"h":995,"v":858,"h2":1162,"v2":595}],
"se":[{"h":323,"v":795,"h2":545,"v2":539,"ax":"o"},{"h":545,"v":539,"h2":535,"v2":28},{"h":460,"v":808,"h2":672,"v2":550,"ax":"o"},{"h":672,"v":550,"h2":670,"v2":39},{"h":600,"v":822,"h2":800,"v2":562,"ax":"o"},{"h":800,"v":562,"h2":805,"v2":50},{"h":738,"v":837,"h2":930,"v2":574,"ax":"o"},{"h":930,"v":574,"h2":938,"v2":60},{"h":878,"v":850,"h2":1060,"v2":586,"ax":"o"},{"h":1060,"v":586,"h2":1072,"v2":71},
{"h":1144,"v":624,"h2":428,"v2":556,"ax":"t"},{"h":428,"v":556,"h2":418,"v2":37},{"h":1118,"v":665,"h2":392,"v2":595,"ax":"t"},{"h":392,"v":595,"h2":378,"v2":73},{"h":1090,"v":709,"h2":353,"v2":636,"ax":"t"},{"h":353,"v":636,"h2":338,"v2":109},{"h":1060,"v":755,"h2":314,"v2":679,"ax":"t"},{"h":314,"v":679,"h2":297,"v2":146},{"h":1032,"v":800,"h2":273,"v2":723,"ax":"t"},{"h":273,"v":723,"h2":255,"v2":184},{"h":1000,"v":850,"h2":226,"v2":773,"ax":"t"},{"h":226,"v":773,"h2":212,"v2":223},
{"h":217,"v":728,"h2":450,"v2":478,"ax":"m"},{"h":450,"v":478,"h2":1162,"v2":538},{"h":213,"v":642,"h2":446,"v2":400,"ax":"m"},{"h":446,"v":400,"h2":1165,"v2":460},{"h":210,"v":558,"h2":443,"v2":325,"ax":"m"},{"h":443,"v":325,"h2":1168,"v2":378},{"h":205,"v":472,"h2":441,"v2":248,"ax":"m"},{"h":441,"v":248,"h2":1170,"v2":295},{"h":201,"v":383,"h2":439,"v2":165,"ax":"m"},{"h":439,"v":165,"h2":1175,"v2":212},{"h":197,"v":295,"h2":437,"v2":85,"ax":"m"},{"h":437,"v":85,"h2":1178,"v2":127}],
"le":[{"h":308,"v":865,"t":"15000"},{"h":448,"v":880,"t":"20000"},{"h":585,"v":893,"t":"25000"},{"h":725,"v":905,"t":"30000"},{"h":865,"v":917,"t":"35000"},{"h":1203,"v":672,"t":"12000"},{"h":1165,"v":713,"t":"14000"},{"h":1140,"v":757,"t":"16000"},{"h":1108,"v":803,"t":"18000"},{"h":1085,"v":848,"t":"20000"},{"h":1058,"v":900,"t":"22000"},{"h":143,"v":752,"t":"800"},{"h":137,"v":665,"t":"900"},{"h":132,"v":583,"t":"1000"},{"h":127,"v":497,"t":"1100"},{"h":125,"v":408,"t":"1200"},{"h":120,"v":320,"t":"1300"},{"h":607,"v":35,"t":"Current Practice"}],
"pe":[{"h":460,"v":58},{"h":440,"v":65},{"h":430,"v":70},{"h":418,"v":72},{"h":408,"v":75},{"h":412,"v":78},{"h":462,"v":80},{"h":473,"v":78},{"h":509,"v":82},{"h":418,"v":97},{"h":410,"v":100},{"h":405,"v":108},{"h":425,"v":108},{"h":445,"v":115},{"h":455,"v":115},{"h":410,"v":118},{"h":420,"v":122},{"h":435,"v":120},{"h":405,"v":130},{"h":415,"v":138},{"h":420,"v":150},{"h":420,"v":168},{"h":430,"v":160},{"h":448,"v":155},{"h":465,"v":153},{"h":470,"v":155},{"h":455,"v":170},{"h":495,"v":191},{"h":455,"v":185},{"h":445,"v":195},{"h":432,"v":195},{"h":448,"v":212},{"h":438,"v":215},{"h":465,"v":215},{"h":455,"v":220},{"h":458,"v":228},{"h":448,"v":245},{"h":455,"v":250},{"h":458,"v":258},{"h":490,"v":282},{"h":458,"v":285},{"h":455,"v":297},{"h":462,"v":303},{"h":470,"v":300},{"h":497,"v":302},{"h":475,"v":320},{"h":515,"v":332},{"h":472,"v":340},{"h":480,"v":345},{"h":473,"v":350},{"h":512,"v":355},{"h":517,"v":360},{"h":498,"v":372},{"h":515,"v":380},{"h":503,"v":378},{"h":525,"v":402},{"h":513,"v":408},{"h":533,"v":410},{"h":538,"v":432},{"h":541,"v":433},{"h":625,"v":416},{"h":610,"v":432},{"h":645,"v":447},{"h":628,"v":450},{"h":652,"v":468},{"h":628,"v":470},{"h":652,"v":486},{"h":655,"v":490},{"h":665,"v":497},{"h":635,"v":497},{"h":672,"v":515},{"h":678,"v":516},{"h":700,"v":529},{"h":556,"v":508},{"h":571,"v":523},{"h":683,"v":548},{"h":691,"v":562},{"h":728,"v":562},{"h":694,"v":587},{"h":739,"v":585},{"h":690,"v":621},{"h":707,"v":618},{"h":772,"v":625},{"h":780,"v":632},{"h":832,"v":644},{"h":843,"v":652},{"h":822,"v":662},{"h":805,"v":668},{"h":843,"v":673},{"h":848,"v":688},{"h":863,"v":708},{"h":888,"v":716},{"h":885,"v":728},{"h":953,"v":770},{"h":968,"v":784},{"h":922,"v":790},{"h":936,"v":792},{"h":972,"v":800},{"h":980,"v":800},{"h":975,"v":808},{"h":968,"v":818},{"h":990,"v":828},{"h":980,"v":815}],

"wf":[{"h":215,"v":785,"i":1,"f":"l"},{"h":190,"v":238,"i":2,"f":"l"},{"h":425,"v":18,"i":3,"f":"l"},{"h":445,"v":530,"i":4,"f":"l"},{"h":445,"v":530,"i":1,"f":"b"},{"h":425,"v":18,"i":2,"f":"b"},{"h":1178,"v":80,"i":3,"f":"b"},{"h":1160,"v":595,"i":4,"f":"b"},{"h":215,"v":785,"i":1,"f":"g"},{"h":990,"v":858,"i":2,"f":"g"},{"h":1160,"v":595,"i":3,"f":"g"},{"h":445,"v":530,"i":4,"f":"g"}],
"xf":[{"h":215,"v":785,"h2":190,"v2":238},{"h":215,"v":785,"h2":990,"v2":858},{"h":990,"v":858,"h2":1160,"v2":595}],
"sf":[{"h":268,"v":790,"h2":495,"v2":535,"ax":"o"},{"h":495,"v":535,"h2":490,"v2":23},{"h":415,"v":805,"h2":630,"v2":547,"ax":"o"},{"h":630,"v":547,"h2":627,"v2":35},{"h":560,"v":820,"h2":762,"v2":559,"ax":"o"},{"h":762,"v":559,"h2":765,"v2":46},{"h":707,"v":835,"h2":895,"v2":571,"ax":"o"},{"h":895,"v":571,"h2":905,"v2":57},{"h":853,"v":848,"h2":1033,"v2":583,"ax":"o"},{"h":1033,"v":583,"h2":1048,"v2":69},
{"h":1137,"v":630,"h2":413,"v2":565,"ax":"t"},{"h":413,"v":565,"h2":410,"v2":32},{"h":1117,"v":662,"h2":388,"v2":593,"ax":"t"},{"h":388,"v":593,"h2":384,"v2":56},{"h":1096,"v":694,"h2":361,"v2":623,"ax":"t"},{"h":361,"v":623,"h2":354,"v2":84},{"h":1075,"v":727,"h2":334,"v2":653,"ax":"t"},{"h":334,"v":653,"h2":323,"v2":113},{"h":1053,"v":760,"h2":306,"v2":684,"ax":"t"},{"h":306,"v":684,"h2":290,"v2":144},{"h":1031,"v":794,"h2":276,"v2":717,"ax":"t"},{"h":276,"v":717,"h2":258,"v2":174},{"h":1008,"v":830,"h2":245,"v2":752,"ax":"t"},{"h":245,"v":752,"h2":228,"v2":202},
{"h":215,"v":748,"h2":443,"v2":502,"ax":"m"},{"h":443,"v":502,"h2":1162,"v2":550},{"h":211,"v":655,"h2":440,"v2":420,"ax":"m"},{"h":440,"v":420,"h2":1165,"v2":465},{"h":208,"v":565,"h2":437,"v2":340,"ax":"m"},{"h":437,"v":340,"h2":1168,"v2":380},{"h":204,"v":465,"h2":434,"v2":250,"ax":"m"},{"h":434,"v":250,"h2":1170,"v2":293},{"h":200,"v":372,"h2":431,"v2":160,"ax":"m"},{"h":431,"v":160,"h2":1173,"v2":205},{"h":196,"v":270,"h2":428,"v2":70,"ax":"m"},{"h":428,"v":70,"h2":1177,"v2":118}],
"lf":[{"h":252,"v":860,"t":"10000"},{"h":400,"v":875,"t":"20000"},{"h":547,"v":888,"t":"30000"},{"h":692,"v":902,"t":"40000"},{"h":840,"v":918,"t":"50000"},{"h":1200,"v":678,"t":"12000"},{"h":1168,"v":710,"t":"14000"},{"h":1150,"v":742,"t":"16000"},{"h":1127,"v":775,"t":"18000"},{"h":1108,"v":808,"t":"20000"},{"h":1090,"v":842,"t":"22000"},{"h":1068,"v":878,"t":"24000"},{"h":140,"v":775,"t":"800"},{"h":135,"v":683,"t":"1000"},{"h":130,"v":588,"t":"1200"},{"h":125,"v":493,"t":"1400"},{"h":120,"v":398,"t":"1600"},{"h":118,"v":302,"t":"1800"},{"h":585,"v":38,"t":"Current Practice"}],
"pf":[{"h":420,"v":60},{"h":430,"v":60},{"h":438,"v":62},{"h":418,"v":70},{"h":428,"v":70},{"h":438,"v":72},{"h":420,"v":78},{"h":432,"v":80},{"h":440,"v":82},{"h":425,"v":90},{"h":435,"v":88},{"h":420,"v":105},{"h":430,"v":110},{"h":440,"v":105},{"h":425,"v":118},{"h":435,"v":115},{"h":415,"v":128},{"h":425,"v":130},{"h":435,"v":125},{"h":440,"v":130},{"h":412,"v":135},{"h":420,"v":140},{"h":432,"v":138},{"h":445,"v":155},{"h":435,"v":155},{"h":440,"v":165},{"h":450,"v":165},{"h":458,"v":172},{"h":430,"v":175},{"h":445,"v":180},{"h":432,"v":180},{"h":425,"v":190},{"h":450,"v":195},{"h":440,"v":205},{"h":430,"v":215},{"h":448,"v":222},{"h":452,"v":232},{"h":462,"v":238},{"h":496,"v":220},{"h":507,"v":250},{"h":445,"v":265},{"h":458,"v":262},{"h":442,"v":278},{"h":480,"v":275},{"h":495,"v":290},{"h":438,"v":303},{"h":448,"v":305},{"h":458,"v":300},{"h":470,"v":295},{"h":462,"v":308},{"h":478,"v":310},{"h":500,"v":312},{"h":445,"v":320},{"h":455,"v":320},{"h":470,"v":320},{"h":490,"v":325},{"h":448,"v":342},{"h":462,"v":340},{"h":485,"v":340},{"h":520,"v":345},{"h":465,"v":352},{"h":460,"v":358},{"h":510,"v":362},{"h":472,"v":378},{"h":488,"v":378},{"h":495,"v":385},{"h":505,"v":382},{"h":497,"v":392},{"h":467,"v":393},{"h":520,"v":397},{"h":557,"v":422},{"h":577,"v":422},{"h":548,"v":430},{"h":510,"v":440},{"h":520,"v":450},{"h":535,"v":440},{"h":525,"v":460},{"h":540,"v":448},{"h":530,"v":465},{"h":558,"v":465},{"h":575,"v":462},{"h":525,"v":480},{"h":535,"v":487},{"h":560,"v":475},{"h":570,"v":480},{"h":617,"v":481},{"h":575,"v":495},{"h":560,"v":505},{"h":580,"v":505},{"h":598,"v":507},{"h":570,"v":518},{"h":578,"v":525},{"h":572,"v":538},{"h":585,"v":548},{"h":607,"v":535},{"h":610,"v":558},{"h":640,"v":560},{"h":665,"v":568},{"h":677,"v":568},{"h":605,"v":570},{"h":608,"v":578},{"h":600,"v":592},{"h":700,"v":582},{"h":690,"v":588},{"h":640,"v":578},{"h":625,"v":590},{"h":618,"v":605},{"h":630,"v":600},{"h":607,"v":617},{"h":645,"v":605},{"h":630,"v":635},{"h":640,"v":652},{"h":660,"v":625},{"h":668,"v":620},{"h":655,"v":632},{"h":690,"v":610},{"h":683,"v":622},{"h":723,"v":621},{"h":738,"v":653},{"h":752,"v":670},{"h":738,"v":680},{"h":725,"v":680},{"h":770,"v":680},{"h":762,"v":700},{"h":670,"v":665},{"h":685,"v":665},{"h":665,"v":678},{"h":675,"v":680},{"h":690,"v":685},{"h":680,"v":692},{"h":695,"v":690},{"h":705,"v":714},{"h":722,"v":714},{"h":727,"v":725},{"h":778,"v":715},{"h":835,"v":722},{"h":848,"v":732},{"h":785,"v":745},{"h":765,"v":750},{"h":760,"v":765},{"h":748,"v":776},{"h":827,"v":762},{"h":780,"v":785},{"h":795,"v":782},{"h":792,"v":795},{"h":805,"v":805},{"h":825,"v":795},{"h":832,"v":795},{"h":838,"v":800},{"h":825,"v":805},{"h":832,"v":815},{"h":860,"v":805},{"h":865,"v":788},{"h":897,"v":785},{"h":893,"v":805},{"h":895,"v":812},{"h":992,"v":818},{"h":422,"v":65},{"h":432,"v":65},{"h":425,"v":75},{"h":434,"v":75},{"h":442,"v":75},{"h":428,"v":85},{"h":420,"v":92},{"h":432,"v":100},{"h":425,"v":125},{"h":432,"v":130},{"h":420,"v":128},{"h":428,"v":138},{"h":438,"v":148},{"h":442,"v":158},{"h":448,"v":172},{"h":438,"v":170},{"h":452,"v":155},{"h":435,"v":192},{"h":458,"v":295},{"h":452,"v":312},{"h":465,"v":312},{"h":440,"v":312},{"h":455,"v":335},{"h":470,"v":335},{"h":490,"v":380},{"h":500,"v":390},{"h":493,"v":372},{"h":530,"v":445},{"h":530,"v":452},{"h":525,"v":445},{"h":570,"v":495},{"h":572,"v":508},{"h":568,"v":528},{"h":622,"v":598},{"h":618,"v":595},{"h":640,"v":610},{"h":672,"v":672},{"h":680,"v":672},{"h":830,"v":802},{"h":835,"v":805},{"h":828,"v":798},{"h":830,"v":790}]
},
"vconcat":[
{"hconcat":[
{"width":610,"height":490,"encoding":{"x":{"field":"h","type":"quantitative","scale":{"domain":[0,1830],"nice":false},"axis":null},"y":{"field":"v","type":"quantitative","scale":{"domain":[1470,0],"nice":false},"axis":null}},"layer":[
{"data":{"name":"wa"},"mark":{"type":"line","strokeWidth":0},"encoding":{"fill":{"field":"f","type":"nominal","scale":{"domain":["l","b","g"],"range":["#f4f4f4","#f9f9f9","#f5f5f5"]},"legend":null},"order":{"field":"i","type":"quantitative"}}},
{"data":{"name":"sa"},"mark":{"type":"rule","color":"#bfbfbf","strokeWidth":1},"encoding":{"x2":{"field":"h2"},"y2":{"field":"v2"}}},
{"data":{"name":"xa"},"mark":{"type":"rule","color":"#1c1c1c","strokeWidth":0.9},"encoding":{"x2":{"field":"h2"},"y2":{"field":"v2"}}},
{"data":{"name":"sa"},"transform":[{"filter":{"field":"ax","valid":true}}],"mark":{"type":"point","filled":false,"color":"#1c1c1c","strokeWidth":0.8,"size":16},"encoding":{"shape":{"field":"ax","type":"nominal","scale":{"domain":["o","t","m"],"range":["M-0.6,0.9L0.6,-0.9","M-1,-0.1L1,0.1","M-1,0.6L1,-0.6"]},"legend":null}}},
{"data":{"name":"pa"},"mark":{"type":"point","filled":true,"fill":"#000000","fillOpacity":0.3,"stroke":"#000000","strokeOpacity":0.5,"strokeWidth":1,"size":30}},
{"data":{"values":[{"h":880,"v":73}]},"mark":{"type":"point","filled":true,"fill":"#f01414","stroke":"#f01414","strokeWidth":1,"opacity":1,"size":28}},
{"data":{"name":"la"},"mark":{"type":"text"},"encoding":{"text":{"field":"t","type":"nominal"}}},
{"data":{"values":[{"h":45,"v":532,"t":"Makespan"}]},"mark":{"type":"text","angle":83},"encoding":{"text":{"field":"t","type":"nominal"}}},
{"data":{"values":[{"h":567,"v":927,"t":"Overlap"}]},"mark":{"type":"text","angle":8},"encoding":{"text":{"field":"t","type":"nominal"}}},
{"data":{"values":[{"h":1190,"v":790,"t":"Total Time"}]},"mark":{"type":"text","angle":-52},"encoding":{"text":{"field":"t","type":"nominal"}}},
{"data":{"values":[{"h":663,"v":1176,"t":"(a) N = 50, Q = 50, Δ = 30"}]},"mark":{"type":"text","font":"DejaVu Serif","fontSize":20},"encoding":{"text":{"field":"t","type":"nominal"}}}
]},
{"width":451,"height":490,"encoding":{"x":{"field":"h","type":"quantitative","scale":{"domain":[0,1353],"nice":false},"axis":null},"y":{"field":"v","type":"quantitative","scale":{"domain":[1470,0],"nice":false},"axis":null}},"layer":[
{"data":{"name":"wb"},"mark":{"type":"line","strokeWidth":0},"encoding":{"fill":{"field":"f","type":"nominal","scale":{"domain":["l","b","g"],"range":["#f4f4f4","#f9f9f9","#f5f5f5"]},"legend":null},"order":{"field":"i","type":"quantitative"}}},
{"data":{"name":"sb"},"mark":{"type":"rule","color":"#bfbfbf","strokeWidth":1},"encoding":{"x2":{"field":"h2"},"y2":{"field":"v2"}}},
{"data":{"name":"xb"},"mark":{"type":"rule","color":"#1c1c1c","strokeWidth":0.9},"encoding":{"x2":{"field":"h2"},"y2":{"field":"v2"}}},
{"data":{"name":"sb"},"transform":[{"filter":{"field":"ax","valid":true}}],"mark":{"type":"point","filled":false,"color":"#1c1c1c","strokeWidth":0.8,"size":16},"encoding":{"shape":{"field":"ax","type":"nominal","scale":{"domain":["o","t","m"],"range":["M-0.6,0.9L0.6,-0.9","M-1,-0.1L1,0.1","M-1,0.6L1,-0.6"]},"legend":null}}},
{"data":{"values":[{"h":925,"v":73}]},"mark":{"type":"point","filled":true,"fill":"#c01818","stroke":"#8a1414","strokeWidth":1,"opacity":1,"size":28}},
{"data":{"name":"pb"},"mark":{"type":"point","filled":true,"fill":"#000000","fillOpacity":0.3,"stroke":"#000000","strokeOpacity":0.5,"strokeWidth":1,"size":30}},
{"data":{"name":"lb"},"mark":{"type":"text"},"encoding":{"text":{"field":"t","type":"nominal"}}},
{"data":{"values":[{"h":45,"v":530,"t":"Makespan"}]},"mark":{"type":"text","angle":83},"encoding":{"text":{"field":"t","type":"nominal"}}},
{"data":{"values":[{"h":565,"v":927,"t":"Overlap"}]},"mark":{"type":"text","angle":8},"encoding":{"text":{"field":"t","type":"nominal"}}},
{"data":{"values":[{"h":1185,"v":790,"t":"Total Time"}]},"mark":{"type":"text","angle":-52},"encoding":{"text":{"field":"t","type":"nominal"}}},
{"data":{"values":[{"h":660,"v":1176,"t":"(b) N = 50, Q = 100, Δ = 30"}]},"mark":{"type":"text","font":"DejaVu Serif","fontSize":20},"encoding":{"text":{"field":"t","type":"nominal"}}}
]}
],"spacing":0},
{"hconcat":[
{"width":610,"height":490,"encoding":{"x":{"field":"h","type":"quantitative","scale":{"domain":[0,1830],"nice":false},"axis":null},"y":{"field":"v","type":"quantitative","scale":{"domain":[1470,0],"nice":false},"axis":null}},"layer":[
{"data":{"name":"wc"},"mark":{"type":"line","strokeWidth":0},"encoding":{"fill":{"field":"f","type":"nominal","scale":{"domain":["l","b","g"],"range":["#f4f4f4","#f9f9f9","#f5f5f5"]},"legend":null},"order":{"field":"i","type":"quantitative"}}},
{"data":{"name":"sc"},"mark":{"type":"rule","color":"#bfbfbf","strokeWidth":1},"encoding":{"x2":{"field":"h2"},"y2":{"field":"v2"}}},
{"data":{"name":"xc"},"mark":{"type":"rule","color":"#1c1c1c","strokeWidth":0.9},"encoding":{"x2":{"field":"h2"},"y2":{"field":"v2"}}},
{"data":{"name":"sc"},"transform":[{"filter":{"field":"ax","valid":true}}],"mark":{"type":"point","filled":false,"color":"#1c1c1c","strokeWidth":0.8,"size":16},"encoding":{"shape":{"field":"ax","type":"nominal","scale":{"domain":["o","t","m"],"range":["M-0.6,0.9L0.6,-0.9","M-1,-0.1L1,0.1","M-1,0.6L1,-0.6"]},"legend":null}}},
{"data":{"values":[{"h":489,"v":47}]},"mark":{"type":"point","filled":true,"fill":"#c01818","stroke":"#8a1414","strokeWidth":1,"opacity":1,"size":28}},
{"data":{"name":"pc"},"mark":{"type":"point","filled":true,"fill":"#000000","fillOpacity":0.3,"stroke":"#000000","strokeOpacity":0.5,"strokeWidth":1,"size":30}},
{"data":{"name":"lc"},"mark":{"type":"text"},"encoding":{"text":{"field":"t","type":"nominal"}}},
{"data":{"values":[{"h":45,"v":540,"t":"Makespan"}]},"mark":{"type":"text","angle":83},"encoding":{"text":{"field":"t","type":"nominal"}}},
{"data":{"values":[{"h":566,"v":935,"t":"Overlap"}]},"mark":{"type":"text","angle":8},"encoding":{"text":{"field":"t","type":"nominal"}}},
{"data":{"values":[{"h":1190,"v":798,"t":"Total Time"}]},"mark":{"type":"text","angle":-52},"encoding":{"text":{"field":"t","type":"nominal"}}},
{"data":{"values":[{"h":663,"v":1182,"t":"(c) N = 50, Q = 150, Δ = 30"}]},"mark":{"type":"text","font":"DejaVu Serif","fontSize":20},"encoding":{"text":{"field":"t","type":"nominal"}}}
]},
{"width":451,"height":490,"encoding":{"x":{"field":"h","type":"quantitative","scale":{"domain":[0,1353],"nice":false},"axis":null},"y":{"field":"v","type":"quantitative","scale":{"domain":[1470,0],"nice":false},"axis":null}},"layer":[
{"data":{"name":"wd"},"mark":{"type":"line","strokeWidth":0},"encoding":{"fill":{"field":"f","type":"nominal","scale":{"domain":["l","b","g"],"range":["#f4f4f4","#f9f9f9","#f5f5f5"]},"legend":null},"order":{"field":"i","type":"quantitative"}}},
{"data":{"name":"sd"},"mark":{"type":"rule","color":"#bfbfbf","strokeWidth":1},"encoding":{"x2":{"field":"h2"},"y2":{"field":"v2"}}},
{"data":{"name":"xd"},"mark":{"type":"rule","color":"#1c1c1c","strokeWidth":0.9},"encoding":{"x2":{"field":"h2"},"y2":{"field":"v2"}}},
{"data":{"name":"sd"},"transform":[{"filter":{"field":"ax","valid":true}}],"mark":{"type":"point","filled":false,"color":"#1c1c1c","strokeWidth":0.8,"size":16},"encoding":{"shape":{"field":"ax","type":"nominal","scale":{"domain":["o","t","m"],"range":["M-0.6,0.9L0.6,-0.9","M-1,-0.1L1,0.1","M-1,0.6L1,-0.6"]},"legend":null}}},
{"data":{"values":[{"h":1055,"v":131}]},"mark":{"type":"point","filled":true,"fill":"#c01818","stroke":"#8a1414","strokeWidth":1,"opacity":1,"size":28}},
{"data":{"name":"pd"},"mark":{"type":"point","filled":true,"fill":"#000000","fillOpacity":0.3,"stroke":"#000000","strokeOpacity":0.5,"strokeWidth":1,"size":30}},
{"data":{"name":"ld"},"mark":{"type":"text"},"encoding":{"text":{"field":"t","type":"nominal"}}},
{"data":{"values":[{"h":42,"v":540,"t":"Makespan"}]},"mark":{"type":"text","angle":83},"encoding":{"text":{"field":"t","type":"nominal"}}},
{"data":{"values":[{"h":565,"v":937,"t":"Overlap"}]},"mark":{"type":"text","angle":8},"encoding":{"text":{"field":"t","type":"nominal"}}},
{"data":{"values":[{"h":1190,"v":798,"t":"Total Time"}]},"mark":{"type":"text","angle":-52},"encoding":{"text":{"field":"t","type":"nominal"}}},
{"data":{"values":[{"h":660,"v":1182,"t":"(d) N = 200, Q = 50, Δ = 30"}]},"mark":{"type":"text","font":"DejaVu Serif","fontSize":20},"encoding":{"text":{"field":"t","type":"nominal"}}}
]}
],"spacing":0},
{"hconcat":[
{"width":610,"height":411,"encoding":{"x":{"field":"h","type":"quantitative","scale":{"domain":[0,1830],"nice":false},"axis":null},"y":{"field":"v","type":"quantitative","scale":{"domain":[1233,0],"nice":false},"axis":null}},"layer":[
{"data":{"name":"we"},"mark":{"type":"line","strokeWidth":0},"encoding":{"fill":{"field":"f","type":"nominal","scale":{"domain":["l","b","g"],"range":["#f4f4f4","#f9f9f9","#f5f5f5"]},"legend":null},"order":{"field":"i","type":"quantitative"}}},
{"data":{"name":"se"},"mark":{"type":"rule","color":"#bfbfbf","strokeWidth":1},"encoding":{"x2":{"field":"h2"},"y2":{"field":"v2"}}},
{"data":{"name":"xe"},"mark":{"type":"rule","color":"#1c1c1c","strokeWidth":0.9},"encoding":{"x2":{"field":"h2"},"y2":{"field":"v2"}}},
{"data":{"name":"se"},"transform":[{"filter":{"field":"ax","valid":true}}],"mark":{"type":"point","filled":false,"color":"#1c1c1c","strokeWidth":0.8,"size":16},"encoding":{"shape":{"field":"ax","type":"nominal","scale":{"domain":["o","t","m"],"range":["M-0.6,0.9L0.6,-0.9","M-1,-0.1L1,0.1","M-1,0.6L1,-0.6"]},"legend":null}}},
{"data":{"values":[{"h":471,"v":54}]},"mark":{"type":"point","filled":true,"fill":"#c01818","stroke":"#8a1414","strokeWidth":1,"opacity":1,"size":28}},
{"data":{"name":"pe"},"mark":{"type":"point","filled":true,"fill":"#000000","fillOpacity":0.3,"stroke":"#000000","strokeOpacity":0.5,"strokeWidth":1,"size":30}},
{"data":{"name":"le"},"mark":{"type":"text"},"encoding":{"text":{"field":"t","type":"nominal"}}},
{"data":{"values":[{"h":45,"v":547,"t":"Makespan"}]},"mark":{"type":"text","angle":83},"encoding":{"text":{"field":"t","type":"nominal"}}},
{"data":{"values":[{"h":566,"v":943,"t":"Overlap"}]},"mark":{"type":"text","angle":8},"encoding":{"text":{"field":"t","type":"nominal"}}},
{"data":{"values":[{"h":1190,"v":805,"t":"Total Time"}]},"mark":{"type":"text","angle":-52},"encoding":{"text":{"field":"t","type":"nominal"}}},
{"data":{"values":[{"h":663,"v":1188,"t":"(e) N = 200, Q = 100, Δ = 30"}]},"mark":{"type":"text","font":"DejaVu Serif","fontSize":20},"encoding":{"text":{"field":"t","type":"nominal"}}}
]},
{"width":451,"height":411,"encoding":{"x":{"field":"h","type":"quantitative","scale":{"domain":[0,1353],"nice":false},"axis":null},"y":{"field":"v","type":"quantitative","scale":{"domain":[1233,0],"nice":false},"axis":null}},"layer":[
{"data":{"name":"wf"},"mark":{"type":"line","strokeWidth":0},"encoding":{"fill":{"field":"f","type":"nominal","scale":{"domain":["l","b","g"],"range":["#f4f4f4","#f9f9f9","#f5f5f5"]},"legend":null},"order":{"field":"i","type":"quantitative"}}},
{"data":{"name":"sf"},"mark":{"type":"rule","color":"#bfbfbf","strokeWidth":1},"encoding":{"x2":{"field":"h2"},"y2":{"field":"v2"}}},
{"data":{"name":"xf"},"mark":{"type":"rule","color":"#1c1c1c","strokeWidth":0.9},"encoding":{"x2":{"field":"h2"},"y2":{"field":"v2"}}},
{"data":{"name":"sf"},"transform":[{"filter":{"field":"ax","valid":true}}],"mark":{"type":"point","filled":false,"color":"#1c1c1c","strokeWidth":0.8,"size":16},"encoding":{"shape":{"field":"ax","type":"nominal","scale":{"domain":["o","t","m"],"range":["M-0.6,0.9L0.6,-0.9","M-1,-0.1L1,0.1","M-1,0.6L1,-0.6"]},"legend":null}}},
{"data":{"values":[{"h":446,"v":57}]},"mark":{"type":"point","filled":true,"fill":"#c01818","stroke":"#8a1414","strokeWidth":1,"opacity":1,"size":28}},
{"data":{"name":"pf"},"mark":{"type":"point","filled":true,"fill":"#000000","fillOpacity":0.3,"stroke":"#000000","strokeOpacity":0.5,"strokeWidth":1,"size":30}},
{"data":{"name":"lf"},"mark":{"type":"text"},"encoding":{"text":{"field":"t","type":"nominal"}}},
{"data":{"values":[{"h":42,"v":547,"t":"Makespan"}]},"mark":{"type":"text","angle":83},"encoding":{"text":{"field":"t","type":"nominal"}}},
{"data":{"values":[{"h":565,"v":943,"t":"Overlap"}]},"mark":{"type":"text","angle":8},"encoding":{"text":{"field":"t","type":"nominal"}}},
{"data":{"values":[{"h":1185,"v":805,"t":"Total Time"}]},"mark":{"type":"text","angle":-52},"encoding":{"text":{"field":"t","type":"nominal"}}},
{"data":{"values":[{"h":662,"v":1188,"t":"(f) N = 200, Q = 150, Δ = 30"}]},"mark":{"type":"text","font":"DejaVu Serif","fontSize":20},"encoding":{"text":{"field":"t","type":"nominal"}}}
]}
],"spacing":0}
]}
